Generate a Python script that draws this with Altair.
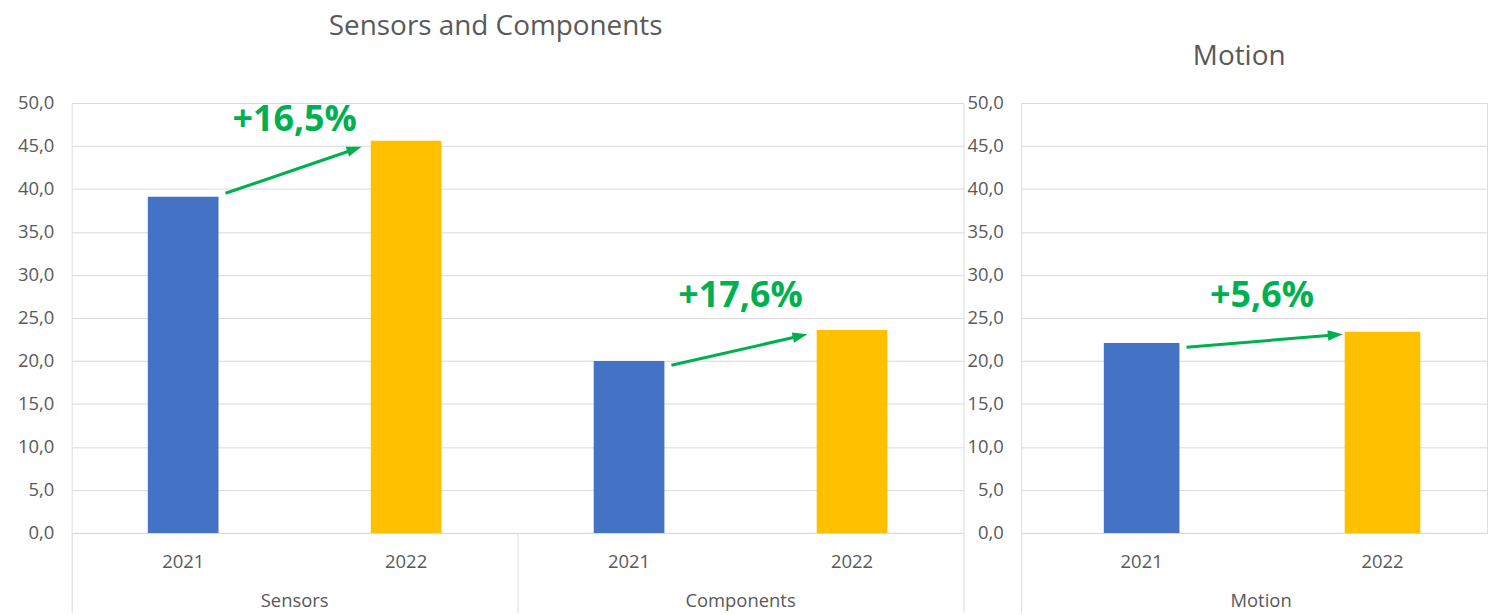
import math
import altair as alt
import pandas as pd

# ---------------- data ----------------
years = ["2021", "2022"]

left_groups = ["Sensors", "Components"]
left_values_2021 = [39.1, 20.0]
left_values_2022 = [45.6, 23.6]
left_growth = ["+16,5%", "+17,6%"]
left_growth_y = [48.0, 27.5]
left_arrow_from = [39.5, 19.5]
left_arrow_to = [44.9, 23.1]

right_groups = ["Motion"]
right_values_2021 = [22.1]
right_values_2022 = [23.4]
right_growth = ["+5,6%"]
right_growth_y = [27.5]
right_arrow_from = [21.6]
right_arrow_to = [23.1]

y_ticks = [0, 5, 10, 15, 20, 25, 30, 35, 40, 45, 50]

# ---------------- styling ----------------
H = 432
W_LEFT = 896
W_RIGHT = 468
PX_PER_Y = H / 50.0
BLUE, GOLD, GREEN = "#4472C4", "#FFC000", "#00B050"
GRID, TEXT = "#D9D9D9", "#595959"
FONT = "Open Sans"
LBL = 18.5

y_axis = alt.Axis(values=y_ticks, labelExpr="replace(format(datum.value, '.1f'), '.', ',')",
                  grid=True, gridColor=GRID, domain=False, ticks=False, labelPadding=18,
                  labelFontSize=LBL, labelColor=TEXT, labelFont=FONT, title=None)
y_scale = alt.Scale(domain=[0, 50], nice=False, zero=True)


def panel(groups, v21, v22, growth, growth_y, a_from, a_to, width, title, title_offset,
          title_dx, offset_scale, unit_px, start_frac, end_frac, group_dx, x_axis):
    rows = []
    for i, g in enumerate(groups):
        rows.append(dict(group=g, year=years[0], value=v21[i]))
        rows.append(dict(group=g, year=years[1], value=v22[i]))
    bars_df = pd.DataFrame(rows)

    arows = []
    for i, g in enumerate(groups):
        x0 = 2 * i + start_frac
        x1 = 2 * i + end_frac
        y0, y1 = a_from[i], a_to[i]
        dxp = (x1 - x0) * unit_px
        dyp = (y1 - y0) * PX_PER_Y
        L = math.hypot(dxp, dyp)
        back = 9
        xs = x1 - back * dxp / L / unit_px
        ys = y1 - back * dyp / L / PX_PER_Y
        ang = (360 - math.degrees(math.atan2(dyp, dxp))) % 360
        arows.append(dict(ax=x0, ay=y0, ax2=xs, ay2=ys, tx=x1, ty=y1, angle=ang,
                          lx=2 * i + 1, ly=growth_y[i], label=growth[i]))
    arr_df = pd.DataFrame(arows)

    xband = alt.Scale(domain=groups, paddingInner=0, paddingOuter=0)
    col = alt.Color("year:N", scale=alt.Scale(domain=years, range=[BLUE, GOLD]), legend=None)

    bars = alt.Chart(bars_df).mark_bar().encode(
        x=alt.X("group:N", sort=groups, scale=xband, axis=x_axis),
        xOffset=alt.XOffset("year:N", sort=years, scale=offset_scale),
        y=alt.Y("value:Q", scale=y_scale, axis=y_axis),
        color=col,
    )
    year_lbl = alt.Chart(bars_df).mark_text(font=FONT, fontSize=LBL, color=TEXT,
                                            baseline="middle").encode(
        x=alt.X("group:N", sort=groups, scale=xband, axis=None),
        xOffset=alt.XOffset("year:N", sort=years, scale=offset_scale),
        y=alt.value(H + 29),
        text="year:N",
    )
    group_lbl = alt.Chart(pd.DataFrame({"group": groups})).mark_text(
        font=FONT, fontSize=LBL, color=TEXT, baseline="middle", dx=group_dx).encode(
        x=alt.X("group:N", sort=groups, scale=xband, axis=None),
        y=alt.value(H + 68),
        text="group:N",
    )
    xq = alt.Scale(domain=[0, width / unit_px], nice=False, zero=False)
    line = alt.Chart(arr_df).mark_rule(color=GREEN, strokeWidth=3).encode(
        x=alt.X("ax:Q", scale=xq, axis=None),
        x2="ax2:Q",
        y=alt.Y("ay:Q", scale=y_scale, axis=y_axis),
        y2="ay2:Q",
    )
    head = alt.Chart(arr_df).mark_point(shape="M0,0L-2,-0.7L-2,0.7Z", filled=True,
                                        size=225, color=GREEN, opacity=1,
                                        strokeWidth=0).encode(
        x=alt.X("tx:Q", scale=xq, axis=None),
        y=alt.Y("ty:Q", scale=y_scale, axis=y_axis),
        angle=alt.Angle("angle:Q", scale=None),
    )
    pct = alt.Chart(arr_df).mark_text(font=FONT, fontSize=36, fontWeight="bold",
                                      color=GREEN, baseline="middle").encode(
        x=alt.X("lx:Q", scale=xq, axis=None),
        y=alt.Y("ly:Q", scale=y_scale, axis=y_axis),
        text="label:N",
    )
    return alt.layer(bars, year_lbl, group_lbl, line, head, pct).resolve_scale(
        x="independent").properties(
        width=width, height=H,
        title=alt.TitleParams(title, fontSize=28, font=FONT, color=TEXT,
                              fontWeight="normal", offset=title_offset, dx=title_dx,
                              anchor="middle"),
    )


left_axis = alt.Axis(labels=False, ticks=True, tickBand="extent", tickSize=80,
                     tickColor=GRID, tickWidth=1, domain=True, domainColor=GRID,
                     grid=False, title=None)
right_axis = alt.Axis(labels=False, ticks=True, bandPosition=0, tickSize=80,
                      tickColor=GRID, tickWidth=1, domain=True, domainColor=GRID,
                      grid=False, title=None)

left = panel(left_groups, left_values_2021, left_values_2022, left_growth, left_growth_y,
             left_arrow_from, left_arrow_to, W_LEFT, "Sensors and Components", 53, -22,
             alt.Scale(domain=years, paddingInner=0.683, paddingOuter=0.3415),
             224, 0.69, 1.30, 0, left_axis)
right = panel(right_groups, right_values_2021, right_values_2022, right_growth,
              right_growth_y, right_arrow_from, right_arrow_to, W_RIGHT, "Motion", 23, -15,
              alt.Scale(domain=years, paddingInner=0.686, paddingOuter=0.30992, align=0.5533),
              242, 0.686, 1.335, 7, right_axis)

chart = alt.hconcat(left, right, spacing=58, bounds="flush").resolve_scale(
    xOffset="independent", x="independent"
).properties(
    padding={"top": 3, "left": 8, "right": 1, "bottom": 0}
).configure_view(strokeWidth=0, stroke="transparent").configure(background="white")

chart.save("out.html", embed_options={"renderer": "svg", "actions": False})
